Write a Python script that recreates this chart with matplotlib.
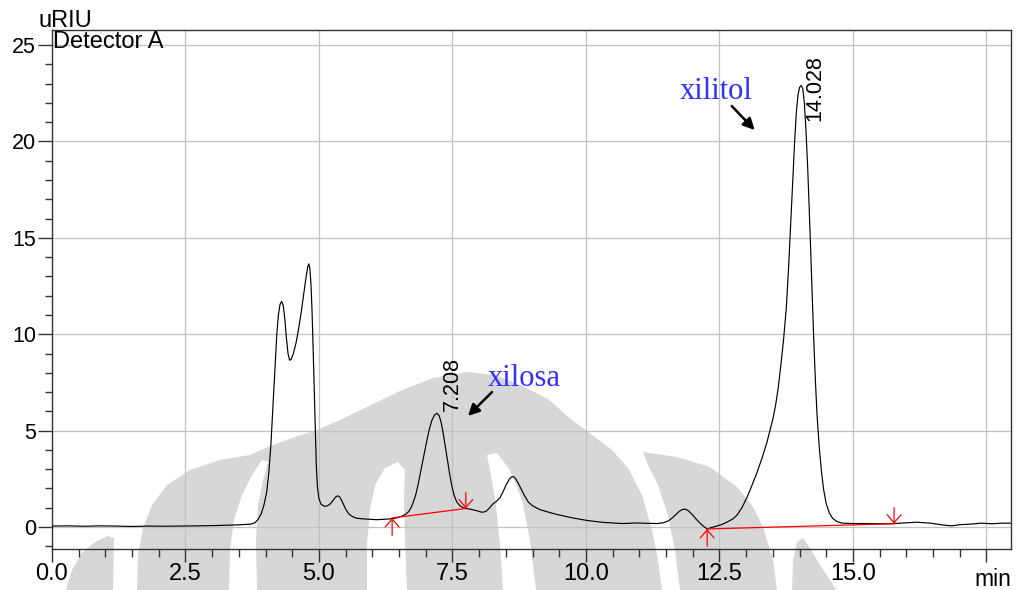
import matplotlib
matplotlib.use("Agg")
import matplotlib.pyplot as plt
from matplotlib.patches import Polygon
from matplotlib.patches import ArrowStyle
from matplotlib.ticker import FixedLocator, MultipleLocator

plt.rcParams['font.family'] = ['Liberation Sans', 'DejaVu Sans']

# ---- chromatogram trace (retention time in min, response in uRIU) ----
time_min = [
    0.00, 0.30, 0.60, 0.90, 1.20, 1.50, 1.80, 2.10, 2.40, 2.70, 3.00, 3.30, 3.55, 3.72,
    3.80, 3.86, 3.92, 3.97, 4.02, 4.06, 4.10, 4.14, 4.18, 4.21, 4.24, 4.27, 4.30, 4.33,
    4.36, 4.39, 4.42, 4.45, 4.48, 4.52, 4.57, 4.62, 4.67, 4.72, 4.76, 4.79, 4.81, 4.83,
    4.85, 4.87, 4.89, 4.91, 4.93, 4.95, 4.97, 5.00, 5.04, 5.10, 5.16, 5.22, 5.27, 5.31,
    5.35, 5.39, 5.43, 5.47, 5.51, 5.56, 5.62, 5.70, 5.83, 6.08, 6.33, 6.45, 6.55, 6.62,
    6.68, 6.72, 6.76, 6.81, 6.86, 6.91, 6.96, 7.01, 7.06, 7.11, 7.16, 7.208, 7.25, 7.29,
    7.33, 7.37, 7.41, 7.45, 7.49, 7.53, 7.58, 7.64, 7.70, 7.75, 7.83, 7.95, 8.03, 8.08,
    8.13, 8.19, 8.25, 8.32, 8.39, 8.45, 8.51, 8.57, 8.61, 8.64, 8.68, 8.73, 8.79, 8.85,
    8.92, 9.00, 9.14, 9.30, 9.46, 9.70, 10.02, 10.32, 10.69, 10.95, 11.15, 11.33, 11.45,
    11.55, 11.62, 11.69, 11.75, 11.80, 11.85, 11.90, 11.95, 12.00, 12.06, 12.13, 12.20,
    12.27, 12.36, 12.45, 12.56, 12.66, 12.75, 12.83, 12.92, 13.01, 13.10, 13.20, 13.30,
    13.39, 13.45, 13.50, 13.55, 13.60, 13.65, 13.70, 13.75, 13.79, 13.82, 13.85, 13.88,
    13.91, 13.94, 13.97, 14.00, 14.028, 14.06, 14.09, 14.12, 14.15, 14.18, 14.21, 14.24,
    14.27, 14.30, 14.33, 14.37, 14.41, 14.45, 14.50, 14.56, 14.62, 14.70, 14.80, 15.00,
    15.30, 15.60, 15.77, 16.00, 16.20, 16.45, 16.70, 16.85, 17.00, 17.20, 17.40, 17.60,
    17.80, 17.96,
]
signal_uriu = [
    0.05, 0.06, 0.04, 0.06, 0.05, 0.03, 0.05, 0.04, 0.05, 0.06, 0.07, 0.10, 0.12, 0.15,
    0.22, 0.40, 0.70, 1.15, 1.80, 2.80, 4.30, 6.40, 8.50, 10.0, 11.0, 11.55, 11.7, 11.5,
    10.8, 9.80, 9.00, 8.65, 8.70, 9.00, 9.55, 10.3, 11.2, 12.2, 13.0, 13.5, 13.65, 13.4,
    12.6, 11.2, 9.30, 7.20, 5.00, 3.20, 2.10, 1.45, 1.18, 1.08, 1.10, 1.22, 1.40, 1.55,
    1.62, 1.55, 1.35, 1.10, 0.88, 0.68, 0.55, 0.46, 0.42, 0.38, 0.42, 0.47, 0.56, 0.66,
    0.80, 0.98, 1.24, 1.65, 2.25, 2.95, 3.65, 4.35, 5.00, 5.50, 5.80, 5.90, 5.78, 5.40,
    4.80, 4.10, 3.40, 2.70, 2.10, 1.65, 1.30, 1.10, 1.00, 0.96, 0.93, 0.85, 0.78, 0.77,
    0.82, 0.97, 1.18, 1.33, 1.52, 1.85, 2.22, 2.50, 2.60, 2.62, 2.52, 2.28, 1.95, 1.62,
    1.30, 1.10, 0.90, 0.77, 0.65, 0.50, 0.34, 0.24, 0.18, 0.21, 0.19, 0.18, 0.22,
    0.33, 0.48, 0.66, 0.82, 0.90, 0.93, 0.88, 0.76, 0.62, 0.42, 0.22, 0.04,
    -0.10, -0.02, 0.05, 0.15, 0.28, 0.42, 0.62, 1.00, 1.50, 2.10, 2.80, 3.60,
    4.40, 5.05, 5.60, 6.30, 7.20, 8.40, 9.70, 11.3, 13.2, 14.9, 16.6, 18.4,
    20.1, 21.5, 22.4, 22.8, 22.9, 22.75, 22.0, 20.6, 18.8, 16.6, 14.2, 11.7,
    9.40, 7.40, 5.70, 4.10, 2.90, 1.95, 1.20, 0.72, 0.45, 0.28, 0.20, 0.18,
    0.18, 0.17, 0.18, 0.22, 0.25, 0.20, 0.10, 0.06, 0.12, 0.15, 0.20, 0.17,
    0.20, 0.20,
]

# integrated peaks
peak_times = [7.208, 14.028]
peak_heights = [5.90, 22.9]
peak_labels = ["7.208", "14.028"]
compound_names = ["xilosa", "xilitol"]

# integration baselines: (start time, start level) -> (end time, end level)
baseline_start_t = [6.37, 12.27]
baseline_start_v = [0.47, -0.10]
baseline_end_t = [7.75, 15.77]
baseline_end_v = [0.96, 0.17]

x_ticks = [0.0, 2.5, 5.0, 7.5, 10.0, 12.5, 15.0, 17.5]
x_tick_labels = ["0.0", "2.5", "5.0", "7.5", "10.0", "12.5", "15.0", ""]
y_ticks = [0, 5, 10, 15, 20, 25]
y_tick_labels = ["0", "5", "10", "15", "20", "25"]

W, H = 1018, 590
fig = plt.figure(figsize=(W / 100, H / 100), dpi=100)
fig.patch.set_facecolor("white")


def px(points):
    return [(x / W, 1 - y / H) for x, y in points]


# ---- faint background emblem ----
emblem_gray = "#d7d7d7"
emblem_shapes = [
    [(137, 590), (138, 555), (143, 528), (152, 505), (167, 485), (190, 470), (220, 460),
     (250, 455), (268, 447), (292, 438), (317, 430), (342, 419), (367, 407), (400, 391),
     (433, 378), (467, 372), (495, 375), (520, 385), (548, 399), (572, 420), (595, 437),
     (612, 450), (628, 468), (642, 495), (652, 530), (658, 560), (662, 590)],
    [(643, 452), (677, 457), (710, 467), (737, 487), (753, 507), (763, 527), (773, 560),
     (777, 590), (680, 590), (675, 550), (668, 515), (658, 485), (648, 465)],
    [(792, 590), (793, 560), (797, 542), (803, 538), (810, 548), (820, 565), (830, 580),
     (836, 590)],
    [(66, 590), (72, 570), (82, 553), (95, 542), (108, 536), (114, 538), (113, 590)],
]
emblem_gaps = [
    [(229, 590), (230, 550), (234, 520), (242, 495), (252, 475), (262, 460), (268, 462),
     (263, 480), (258, 505), (256, 540), (257, 590)],
    [(367, 590), (367, 545), (370, 510), (375, 485), (385, 468), (398, 462), (405, 470),
     (404, 500), (405, 540), (407, 590)],
    [(487, 455), (497, 453), (510, 470), (522, 500), (530, 540), (536, 590), (503, 590),
     (500, 545), (496, 505), (491, 475)],
]
for shape in emblem_shapes:
    fig.add_artist(Polygon(px(shape), closed=True, transform=fig.transFigure,
                           facecolor=emblem_gray, edgecolor="none", zorder=-2))
for gap in emblem_gaps:
    fig.add_artist(Polygon(px(gap), closed=True, transform=fig.transFigure,
                           facecolor="white", edgecolor="none", zorder=-1))

# ---- axes ----
left, right, top, bottom = 52, 1011, 30, 549
ax = fig.add_axes([left / W, 1 - bottom / H, (right - left) / W, (bottom - top) / H])
ax.set_facecolor("none")
ax.set_xlim(0, 17.96)
ax.set_ylim(-1.14, 25.78)

ax.xaxis.set_major_locator(FixedLocator(x_ticks))
ax.set_xticklabels(x_tick_labels)
ax.xaxis.set_minor_locator(MultipleLocator(0.5))
ax.yaxis.set_major_locator(FixedLocator(y_ticks))
ax.set_yticklabels(y_tick_labels)
ax.yaxis.set_minor_locator(MultipleLocator(1))

spine_color = "#333333"
for s in ax.spines.values():
    s.set_color(spine_color)
    s.set_linewidth(1.0)

ax.tick_params(axis="x", which="major", direction="out", length=9.4, width=1.0,
               color=spine_color, labelsize=17, pad=1)
ax.tick_params(axis="x", which="minor", direction="out", length=5.8, width=1.0,
               color=spine_color)
ax.tick_params(axis="y", which="major", direction="out", length=10, width=1.0,
               color=spine_color, labelsize=15.5, pad=1.5)
ax.tick_params(axis="y", which="minor", direction="out", length=5, width=1.0,
               color=spine_color)

ax.grid(True, which="major", color="#c2c2c2", linewidth=0.9)
ax.set_axisbelow(True)

# trace
ax.plot(time_min, signal_uriu, color="black", linewidth=0.85, zorder=3,
        solid_joinstyle="round")

# integration baselines with start/end markers
mark_style = ArrowStyle("->", head_length=5.8, head_width=5.0)
for t0, v0, t1, v1 in zip(baseline_start_t, baseline_start_v, baseline_end_t, baseline_end_v):
    ax.plot([t0, t1], [v0, v1], color="#ff0000", linewidth=0.9, zorder=4)
    ax.annotate("", xy=(t0, v0), xytext=(0, -12.5), textcoords="offset points",
                arrowprops=dict(arrowstyle=mark_style, color="#ff0000", lw=0.9,
                                shrinkA=0, shrinkB=0, mutation_scale=1), zorder=4)
    ax.annotate("", xy=(t1, v1), xytext=(0, 11.5), textcoords="offset points",
                arrowprops=dict(arrowstyle=mark_style, color="#ff0000", lw=0.9,
                                shrinkA=0, shrinkB=0, mutation_scale=1), zorder=4)

# retention time labels
label_offsets = [(10.8, 21.2), (10.1, -1.8)]
for t, h, lab, off in zip(peak_times, peak_heights, peak_labels, label_offsets):
    ax.annotate(lab, xy=(t, h), xytext=off, textcoords="offset points",
                rotation=90, ha="center", va="center", fontsize=15.5, color="black")

# compound names with pointers
name_pos = [(8.165, 7.31), (11.76, 22.2)]
arrow_tail = [(8.24, 7.0), (12.73, 21.84)]
arrow_tip = [(7.79, 5.76), (13.16, 20.59)]
for name, pos, tail, tip in zip(compound_names, name_pos, arrow_tail, arrow_tip):
    ax.text(pos[0], pos[1], name, ha="left", va="baseline", fontsize=22,
            family=["Liberation Serif", "DejaVu Serif"], color="#3030ff")
    ax.annotate("", xy=tip, xytext=tail,
                arrowprops=dict(arrowstyle="-|>", color="black", lw=1.8,
                                mutation_scale=17, shrinkA=0, shrinkB=0))

# captions
ax.text(1 / (right - left), 1 - 18 / (bottom - top), "Detector A", transform=ax.transAxes,
        ha="left", va="baseline", fontsize=17)
fig.text(38 / W, 1 - 27 / H, "uRIU", ha="left", va="baseline", fontsize=17)
fig.text(1011 / W, 1 - 586 / H, "min", ha="right", va="baseline", fontsize=16.5)

fig.savefig("out.png", dpi=100, facecolor="white")
